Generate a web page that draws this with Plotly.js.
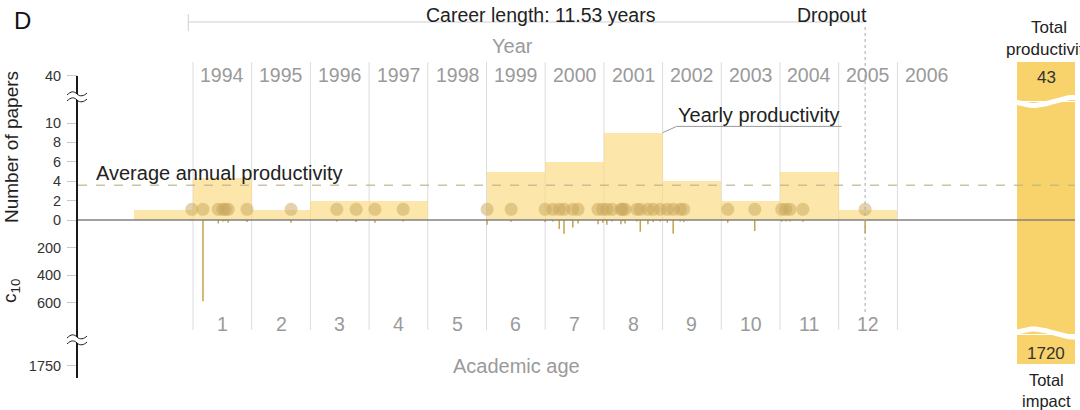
<!DOCTYPE html>
<html>
<head>
<meta charset="utf-8">
<script src="https://cdn.plot.ly/plotly-3.0.1.min.js"></script>
<style>
html,body{margin:0;padding:0;background:#fff;}
#chart{width:1080px;height:410px;}
</style>
</head>
<body>
<div id="chart"></div>
<script>
// ---------------- data ----------------
const years = [1993, 1994, 1995, 1996, 1997, 1998, 1999, 2000, 2001, 2002, 2003, 2004, 2005];
const papersPerYear = [1, 4.3, 1, 2, 2, 0, 5, 6, 9, 4, 2, 5, 1];

const yearLabels = [1994, 1995, 1996, 1997, 1998, 1999, 2000, 2001, 2002, 2003, 2004, 2005, 2006];
const ageLabels = [1, 2, 3, 4, 5, 6, 7, 8, 9, 10, 11, 12];

// publication times (decimal years) and their c10 citation counts
const paperTimes = [1993.98, 1994.17, 1994.43, 1994.51, 1994.55, 1994.60, 1994.92,
  1995.67, 1996.45, 1996.78, 1997.10, 1997.58,
  1999.01, 1999.42,
  2000.00, 2000.13, 2000.24, 2000.32, 2000.47, 2000.56, 2000.90, 2000.98,
  2001.05, 2001.14, 2001.29, 2001.32, 2001.36, 2001.56, 2001.62, 2001.75, 2001.84, 2001.96,
  2002.08, 2002.18, 2002.30, 2002.36,
  2003.11, 2003.57,
  2004.03, 2004.10, 2004.17, 2004.39,
  2005.45];
const paperC10 = [5, 590, 25, 10, 8, 20, 15,
  20, 10, 15, 20, 10,
  35, 12,
  15, 10, 65, 100, 55, 25, 30, 20,
  35, 10, 30, 8, 25, 10, 85, 30, 15, 10,
  20, 100, 10, 15,
  20, 80,
  12, 10, 10, 12,
  95];

const paperTicks = [0, 2, 4, 6, 8, 10];
const c10Ticks = [200, 400, 600];
const brokenPaperTick = 40;
const brokenC10Tick = 1750;

const careerStart = 1993.92;
const careerLength = 11.53;
const avgProductivity = 3.58;
const totalProductivity = 43;
const totalImpact = 1720;

// ---------------- geometry helpers (style only) ----------------
const W = 1080, H = 410;
const px = x => x / W;
const py = y => 1 - y / H;
const PX_PER_YEAR = 58.7, X_ORIGIN_PX = 193, X_ORIGIN_YEAR = 1994;
const PX_PER_PAPER = 9.7, ZERO_PX = 220;
const C10_PER_UNIT = 70.4;           // c10 citations per paper-unit on the shared vertical scale
const c10ToY = c => -c / C10_PER_UNIT;
const DOT_ROW = 1.1;
const BREAK_TOP_Y = 14.85, BREAK_BOTTOM_Y = -15.05;
const pxToX = p => X_ORIGIN_YEAR + (p - X_ORIGIN_PX) / PX_PER_YEAR;
const pxToY = p => (ZERO_PX - p) / PX_PER_PAPER;

const xRange = [pxToX(0), pxToX(W)];
const yRange = [pxToY(H), pxToY(0)];
const dropout = careerStart + careerLength;

const FONT = 'Liberation Sans, Arial, Helvetica, sans-serif';

// ---------------- traces ----------------
const barTrace = {
  type: 'bar',
  x: years.map(y => y + 0.5),
  y: papersPerYear,
  width: 1,
  marker: {color: 'rgba(250,218,130,0.68)', line: {width: 0}},
  hoverinfo: 'skip'
};

const stemX = [], stemY = [];
paperTimes.forEach((t, i) => {
  stemX.push(t, t, null);
  stemY.push(0, c10ToY(paperC10[i]), null);
});
const stemTrace = {
  type: 'scatter', mode: 'lines',
  x: stemX, y: stemY,
  line: {color: '#c6a34c', width: 1.5},
  hoverinfo: 'skip'
};

const dotTrace = {
  type: 'scatter', mode: 'markers',
  x: paperTimes,
  y: paperTimes.map(() => DOT_ROW),
  marker: {size: 13, color: 'rgba(200,166,92,0.5)', line: {width: 0}},
  hoverinfo: 'skip'
};

// wavy white breaks across the summary bar (decoration only; straight segments)
function waveTrace(x0, x1, yMid, amp, phase, w) {
  const xs = [], ys = [];
  for (let i = 0; i <= 16; i++) {
    const t = i / 16;
    const xp = x0 + (x1 - x0) * t;
    const yp = yMid + amp * Math.sin(Math.PI * 2 * t * 0.75 + phase);
    xs.push(pxToX(xp)); ys.push(pxToY(yp));
  }
  return {type: 'scatter', mode: 'lines', x: xs, y: ys, line: {color: '#ffffff', width: w}, hoverinfo: 'skip'};
}
const waves = [
  waveTrace(1016, 1076, 101.5, 4, 0.2, 5),
  waveTrace(1016, 1076, 333, 4, Math.PI + 0.2, 5)
];

// ---------------- shapes ----------------
const shapes = [];
// right summary bar in three pieces separated by breaks
[[62, 101], [102, 334], [335, 364]].forEach(([a, b]) => {
  shapes.push({type: 'rect', xref: 'paper', yref: 'paper', x0: px(1017), x1: px(1075), y0: py(b), y1: py(a),
    fillcolor: '#f8d36c', line: {width: 0}, layer: 'below'});
});
// year gridlines
yearLabels.forEach(y => {
  shapes.push({type: 'line', xref: 'x', yref: 'paper', x0: y, x1: y, y0: py(62), y1: py(330),
    line: {color: '#dcdcdc', width: 1}, layer: 'below'});
});
// average productivity
shapes.push({type: 'line', xref: 'paper', yref: 'y', x0: px(78), x1: px(1075), y0: avgProductivity, y1: avgProductivity,
  line: {color: 'rgba(190,180,140,0.8)', width: 1.5, dash: 'dash'}});
// zero line
shapes.push({type: 'line', xref: 'paper', yref: 'y', x0: px(77), x1: px(1075), y0: 0, y1: 0,
  line: {color: '#808080', width: 1.5}});
// dropout dotted line
shapes.push({type: 'line', xref: 'x', yref: 'paper', x0: dropout, x1: dropout, y0: py(27), y1: py(312),
  line: {color: '#a8a8a8', width: 1, dash: 'dot'}});
// career span line
shapes.push({type: 'line', xref: 'x', yref: 'paper', x0: careerStart, x1: dropout, y0: py(22), y1: py(22),
  line: {color: '#cfcfcf', width: 1}});
shapes.push({type: 'line', xref: 'x', yref: 'paper', x0: careerStart, x1: careerStart, y0: py(14), y1: py(31),
  line: {color: '#cfcfcf', width: 1}});
// yearly productivity leader
const peakIdx = papersPerYear.indexOf(Math.max(...papersPerYear));
const peakRight = years[peakIdx] + 1, peakTop = papersPerYear[peakIdx];
shapes.push({type: 'path', xref: 'x', yref: 'y', fillcolor: 'rgba(0,0,0,0)',
  path: `M ${peakRight},${peakTop} L ${peakRight + 0.24},${peakTop + 0.65} L ${peakRight + 3.05},${peakTop + 0.65}`,
  line: {color: '#9a9a9a', width: 1}});
// broken y axis line
[[76, 94], [100, 337], [343, 378]].forEach(([a, b]) => {
  shapes.push({type: 'line', xref: 'paper', yref: 'paper', x0: px(77), x1: px(77), y0: py(a), y1: py(b),
    line: {color: '#1a1a1a', width: 2}});
});
// break marks
[94, 100, 337, 343].forEach(yy => {
  shapes.push({type: 'path', xref: 'paper', yref: 'paper', fillcolor: 'rgba(0,0,0,0)', line: {color: '#1a1a1a', width: 1},
    path: `M ${px(67)},${py(yy + 1)} C ${px(71)},${py(yy - 3)} ${px(74)},${py(yy - 3)} ${px(77)},${py(yy)} C ${px(80)},${py(yy + 3)} ${px(84)},${py(yy + 2)} ${px(87)},${py(yy - 1)}`});
});

// ---------------- annotations ----------------
const ann = [];
const txt = (text, x, y, opts = {}) => Object.assign({
  text, x: px(x), y: py(y), xref: 'paper', yref: 'paper', showarrow: false,
  xanchor: 'center', yanchor: 'middle', font: {family: FONT, size: 20, color: '#222'}
}, opts);

ann.push(txt('D', 22, 20, {font: {family: FONT, size: 24, color: '#111'}}));
ann.push(txt('Career length: ' + careerLength.toFixed(2) + ' years', 541, 15, {font: {family: FONT, size: 19.5, color: '#222'}}));
ann.push({text: 'Dropout', x: dropout + 0.06, xref: 'x', y: py(15), yref: 'paper', showarrow: false,
  xanchor: 'right', yanchor: 'middle', font: {family: FONT, size: 19.5, color: '#222'}});
ann.push(txt('Year', 512, 46, {font: {family: FONT, size: 20, color: '#9a9a9a'}}));
ann.push(txt('Academic age', 516, 366, {font: {family: FONT, size: 20, color: '#9a9a9a'}}));
yearLabels.forEach(y => {
  ann.push({text: String(y), x: y + 0.5, xref: 'x', y: py(75), yref: 'paper', showarrow: false,
    xanchor: 'center', yanchor: 'middle', font: {family: FONT, size: 19.5, color: '#9a9a9a'}});
});
ageLabels.forEach(a => {
  ann.push({text: String(a), x: yearLabels[0] + a - 0.5, xref: 'x', y: py(324), yref: 'paper', showarrow: false,
    xanchor: 'center', yanchor: 'middle', font: {family: FONT, size: 19.5, color: '#9a9a9a'}});
});
ann.push(txt('Average annual productivity', 94, 173, {xanchor: 'left'}));
ann.push({text: 'Yearly productivity', x: peakRight + 0.22, xref: 'x', y: py(115), yref: 'paper', showarrow: false,
  xanchor: 'left', yanchor: 'middle', font: {family: FONT, size: 20, color: '#222'}});
ann.push(txt('Number of papers', 11, 147, {textangle: -90, font: {family: FONT, size: 19, color: '#222'}}));
ann.push(txt('c<sub>10</sub>', 11, 291, {textangle: -90, font: {family: FONT, size: 19, color: '#222'}}));
ann.push(txt('Total<br>productivity', 1049, 39, {font: {family: FONT, size: 17, color: '#222'}}));
ann.push(txt(String(totalProductivity), 1046, 78, {font: {family: FONT, size: 17, color: '#333'}}));
ann.push(txt(String(totalImpact), 1046, 353, {font: {family: FONT, size: 17, color: '#333'}}));
ann.push(txt('Total<br>impact', 1046, 390, {font: {family: FONT, size: 16.5, color: '#222'}}));

// ---------------- layout ----------------
const tickvals = [BREAK_TOP_Y].concat(paperTicks, c10Ticks.map(c10ToY), [BREAK_BOTTOM_Y]);
const ticktext = [String(brokenPaperTick)].concat(paperTicks.map(String), c10Ticks.map(String), [String(brokenC10Tick)]);

const layout = {
  width: W, height: H,
  margin: {l: 0, r: 0, t: 0, b: 0, pad: 0},
  paper_bgcolor: '#ffffff', plot_bgcolor: '#ffffff',
  showlegend: false,
  bargap: 0,
  xaxis: {range: xRange, visible: false, fixedrange: true},
  yaxis: {range: yRange, anchor: 'free', position: px(77), side: 'left',
    showline: false, showgrid: false, zeroline: false,
    ticks: 'outside', ticklen: 10, tickcolor: '#c8c8c8', tickwidth: 1,
    ticklabelstandoff: 3,
    tickmode: 'array', tickvals, ticktext,
    tickfont: {family: FONT, size: 14.5, color: '#333'}, fixedrange: true},
  shapes, annotations: ann
};

Plotly.newPlot('chart', [barTrace, ...waves, stemTrace, dotTrace], layout, {displayModeBar: false, staticPlot: true});
</script>
</body>
</html>
